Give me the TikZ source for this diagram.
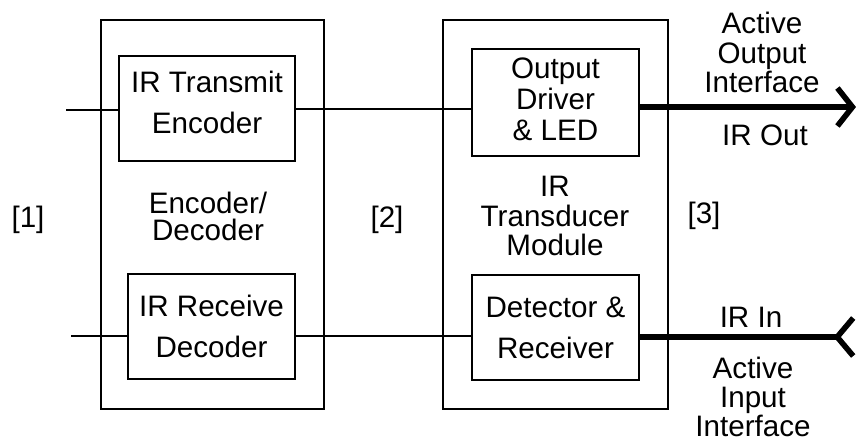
\documentclass[tikz,border=0pt]{standalone}
\usepackage{fontspec}
\setmainfont{Liberation Sans}
\usetikzlibrary{arrows.meta, positioning}

\begin{document}
\begin{tikzpicture}[x=0.5pt, y=-0.5pt, font=\fontsize{14.8}{17}\selectfont,
        box/.style={draw, line width=1pt, align=center, inner sep=0pt},
        wire/.style={line width=1pt},
        irline/.style={line width=2.8pt},
        tall/.style={font=\fontsize{14.8}{20.5}\selectfont},
        tight/.style={align=center, font=\fontsize{14.8}{14.6}\selectfont}]
    \useasboundingbox (0,0) rectangle (856,441);

        \node[box, minimum width=111.5pt, minimum height=194.5pt] (codec) at (212.5,214.5) {};
        \node[box, minimum width=112.5pt, minimum height=194.5pt] (module) at (555.5,214.5) {};

        \node[box, tall, minimum width=88pt, minimum height=52.5pt] (tx) at (207,108.5) {IR Transmit\\Encoder\rule[-6pt]{0pt}{6pt}};
        \node[box, tall, minimum width=83.5pt, minimum height=52.5pt] (rx) at (211.5,326.5) {IR Receive\\Decoder};
        \node[box, font=\fontsize{14.8}{15.5}\selectfont, minimum width=83.5pt, minimum height=53.5pt] (drv) at (555.5,102.5) {Output\\Driver\\\& LED\rule[-3pt]{0pt}{3pt}};
        \node[box, tall, minimum width=83.5pt, minimum height=52.5pt] (det) at (555.5,327.5) {Detector \&\\Receiver};

        \node[align=center, font=\fontsize{14.8}{13.5}\selectfont] (codecname) at (208,216.5) {Encoder/\\Decoder};
        \node[tight] (modname) at (555,216) {IR\\Transducer\\Module};

        \node (p1) at (28,220) {[1]};
        \node (p2) at (387,220) {[2]};
        \node (p3) at (704,216) {[3]};

        \node[tight] (outif) at (762,52.5) {Active\\Output\\Interface};
        \node (outname) at (765,135) {IR Out};
        \node (inname) at (751,317) {IR In};
        \node[tight] (inif) at (753,397) {Active\\Input\\Interface};

        \coordinate (in1) at (66,110);
        \coordinate (in2) at (71,336);
        \coordinate (irout) at (856,107);
        \coordinate (irin) at (856,337);

        \draw[wire] (in1) -- (in1 -| tx.west);
        \draw[wire] (tx.east) -- (tx.east -| drv.west);
        \draw[wire] (in2) -- (in2 -| rx.west);
        \draw[wire] (in2 -| rx.east) -- (in2 -| det.west);

        \draw[irline, -{Straight Barb[length=7.5pt, width=19pt]}] (drv.east |- irout) -- (irout);
        \draw[irline, {Straight Barb[reversed, length=8pt, width=19pt]}-] (irin) -- (irin -| det.east);
    \end{tikzpicture}
\end{document}
